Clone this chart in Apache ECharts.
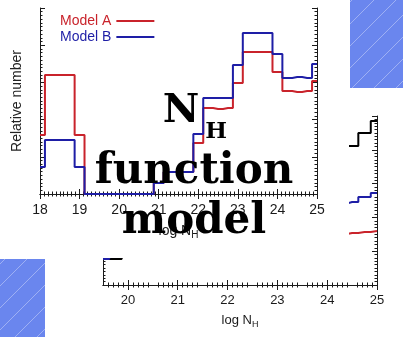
<!DOCTYPE html>
<html>
<head>
<meta charset="utf-8">
<script src="https://cdn.jsdelivr.net/npm/echarts@6/dist/echarts.min.js"></script>
<style>
  html, body { margin: 0; padding: 0; background: #fff; }
  #back { position: absolute; left: 0; top: 0; width: 403px; height: 337px; }
  #front { position: absolute; left: 0; top: 0; width: 349px; height: 258px; }
</style>
</head>
<body>
<div id="back"></div>
<div id="front"></div>
<script>
// front panel: bins of log NH (0.25 dex), relative number
var binsFront = [18, 18.25, 18.5, 18.75, 19, 19.25, 19.5, 19.75, 20, 20.25, 20.5, 20.75,
  21, 21.25, 21.5, 21.75, 22, 22.25, 22.5, 22.75, 23, 23.25, 23.5, 23.75, 24, 24.25, 24.5, 24.75, 25];
var modelA = [31.7, 64, 64, 64, 31.7, 0, 0, 0, 0, 0, 0, 0,
  5.9, 11.8, 11.8, 11.8, 27.4, 46.2, 45.7, 46.2, 59.7, 76.3, 76.3, 76.3, 65.6, 55.4, 54.8, 55.4, 60.8];
var modelB = [14.5, 29, 29, 29, 14.5, 0, 0, 0, 0, 0, 0, 0,
  5.9, 11.8, 11.8, 11.8, 32.3, 51.6, 51.6, 51.6, 69.4, 86.6, 86.6, 86.6, 75.3, 62.4, 62.9, 62.4, 69.9];

// back panel (mostly hidden behind the front one)
var binsBack = [19.5, 19.75, 20, 20.25, 20.5, 20.75, 21, 21.25, 21.5, 21.75, 22, 22.25,
  22.5, 22.75, 23, 23.25, 23.5, 23.75, 24, 24.25, 24.5, 24.75, 25];
var backTotal = [15.4, 15.4, 60, 60, 60, 60, 55, 55, 55, 55, 60, 65,
  65, 65, 70, 75, 75, 75, 78, 80, 82.2, 89.9, 97];
var backB = [15.4, 40, 40, 40, 40, 40, 35, 35, 35, 35, 38, 42,
  42, 42, 45, 47, 47, 47, 48, 48, 49.1, 52.1, 54.4];
var backA = [25, 25, 25, 25, 25, 25, 22, 22, 22, 22, 24, 26,
  26, 26, 28, 29, 29, 29, 30, 30, 30.8, 31.4, 32];

var xTicksFront = [18, 19, 20, 21, 22, 23, 24, 25];
var xTicksBack = [20, 21, 22, 23, 24, 25];

var RED = '#c9232b', BLUE = '#1e1ea6', INK = '#1a1a1a';
var SANS = 'Liberation Sans, Arial, sans-serif';

function pairs(xs, ys) {
  return xs.map(function (x, i) { return [x, ys[i]]; });
}

function stepLine(name, xs, ys, color) {
  return {
    name: name, type: 'line', step: 'middle', showSymbol: false,
    lineStyle: { color: color, width: 2 }, itemStyle: { color: color },
    data: pairs(xs, ys), z: 3
  };
}

function frameAxes(min, max, interval, ticks, labelSize, nameGap, nameSize) {
  var line = { show: true, lineStyle: { color: INK, width: 1 } };
  var tick = { show: true, inside: true, length: 5, customValues: ticks, lineStyle: { color: INK } };
  var minor = { show: true, splitNumber: interval === 1 ? 10 : 5, length: 2.5, lineStyle: { color: INK } };
  var ytick = { show: true, inside: true, length: 5, lineStyle: { color: INK } };
  var yminor = { show: true, splitNumber: 10, length: 2.5, lineStyle: { color: INK } };
  var sub = Math.round(nameSize * 0.72);
  return {
    x: [{
      type: 'value', min: min, max: max, interval: interval, position: 'bottom',
      axisLine: line, axisTick: tick, minorTick: minor, splitLine: { show: false },
      axisLabel: { customValues: ticks, fontSize: labelSize, color: INK, fontFamily: SANS, margin: 9 },
      name: '{n|log N}{s|H}', nameLocation: 'middle', nameGap: nameGap,
      nameTextStyle: {
        rich: {
          n: { fontSize: nameSize, fontFamily: SANS, color: INK, verticalAlign: 'top', lineHeight: nameSize + 2 },
          s: { fontSize: sub, fontFamily: SANS, color: INK, verticalAlign: 'bottom', lineHeight: sub, padding: [8, 0, 0, 0] }
        }
      }
    }, {
      type: 'value', min: min, max: max, interval: interval, position: 'top',
      axisLine: line, axisTick: tick, minorTick: minor, splitLine: { show: false },
      axisLabel: { show: false }
    }],
    y: [{
      type: 'value', min: 0, max: 100, interval: 20, position: 'left',
      axisLine: line, axisTick: ytick, minorTick: yminor,
      splitLine: { show: false }, axisLabel: { show: false }
    }, {
      type: 'value', min: 0, max: 100, interval: 20, position: 'right',
      axisLine: line, axisTick: ytick, minorTick: yminor,
      splitLine: { show: false }, axisLabel: { show: false }
    }]
  };
}

// hatch pattern for the blue corner squares
var hatch = document.createElement('canvas');
hatch.width = 22; hatch.height = 22;
var hc = hatch.getContext('2d');
hc.fillStyle = '#6a86ee';
hc.fillRect(0, 0, 22, 22);
hc.strokeStyle = 'rgba(255,255,255,0.35)';
hc.lineWidth = 1;
hc.beginPath();
hc.moveTo(-2, 24); hc.lineTo(24, -2);
hc.stroke();

var backAxes = frameAxes(19.5, 25, 0.5, xTicksBack, 13, 26, 13);
var back = echarts.init(document.getElementById('back'), null, { renderer: 'canvas' });
back.setOption({
  animation: false,
  backgroundColor: '#fff',
  grid: { left: 103, right: 26, top: 116, bottom: 52 },
  xAxis: backAxes.x,
  yAxis: backAxes.y,
  series: [
    stepLine('Model A', binsBack, backA, RED),
    stepLine('Total', binsBack, backTotal, '#000'),
    stepLine('Model B', binsBack, backB, BLUE)
  ],
  graphic: [
    { type: 'rect', shape: { x: 350, y: 0, width: 53, height: 88 }, style: { fill: { image: hatch, repeat: 'repeat' } }, z: 10 },
    { type: 'rect', shape: { x: 0, y: 259, width: 45, height: 78 }, style: { fill: { image: hatch, repeat: 'repeat' } }, z: 10 }
  ]
});

var frontAxes = frameAxes(18, 25, 1, xTicksFront, 14, 30, 14);
frontAxes.y[0].name = 'Relative number';
frontAxes.y[0].nameLocation = 'middle';
frontAxes.y[0].nameGap = 16;
frontAxes.y[0].nameTextStyle = { fontSize: 14, fontFamily: SANS, color: '#222' };

var SERIF = { fontWeight: 'bold', fontFamily: 'DejaVu Serif', fill: '#000', align: 'center', verticalAlign: 'bottom' };
function bigText(text, x, y, size) {
  return { type: 'text', z: 100, style: Object.assign({ text: text, x: x, y: y, fontSize: size }, SERIF) };
}

var front = echarts.init(document.getElementById('front'), null, { renderer: 'canvas' });
front.setOption({
  animation: false,
  backgroundColor: '#fff',
  grid: { left: 40, right: 32, top: 8, bottom: 64 },
  legend: {
    orient: 'vertical', left: 55, top: 9, align: 'right',
    icon: 'rect', itemWidth: 38, itemHeight: 2, itemGap: 2,
    textStyle: { fontSize: 14, fontFamily: SANS, lineHeight: 14 },
    data: [
      { name: 'Model A', textStyle: { color: RED } },
      { name: 'Model B', textStyle: { color: BLUE } }
    ]
  },
  xAxis: frontAxes.x,
  yAxis: frontAxes.y,
  series: [
    stepLine('Model A', binsFront, modelA, RED),
    stepLine('Model B', binsFront, modelB, BLUE)
  ],
  graphic: [
    bigText('N', 181, 132, 40),
    bigText('H', 216, 144, 23),
    bigText('function', 194, 193, 42),
    bigText('model', 194, 243, 42)
  ]
});
</script>
</body>
</html>
